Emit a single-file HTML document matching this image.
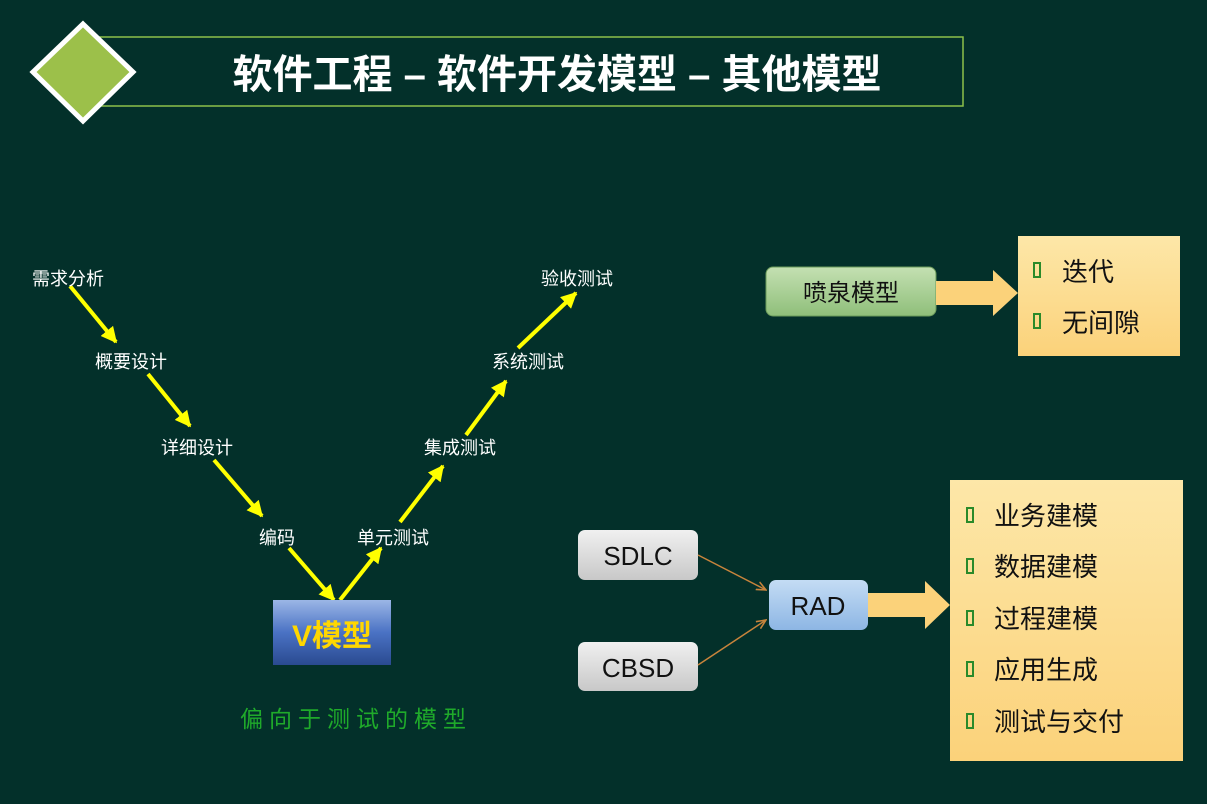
<!DOCTYPE html>
<html><head><meta charset="utf-8"><style>
html,body{margin:0;padding:0;background:#03302a;}
svg text{font-family:"Liberation Sans","Noto Sans CJK SC",sans-serif;}
</style></head><body>
<svg width="1207" height="799" viewBox="0 0 1207 799" xmlns="http://www.w3.org/2000/svg">
<defs>
<linearGradient id="vb" x1="0" y1="0" x2="0" y2="1"><stop offset="0" stop-color="#9bb6e6"/><stop offset="0.5" stop-color="#4a72c4"/><stop offset="1" stop-color="#2a4a90"/></linearGradient>
<linearGradient id="gb" x1="0" y1="0" x2="0" y2="1"><stop offset="0" stop-color="#c4e0b2"/><stop offset="1" stop-color="#8fbf7a"/></linearGradient>
<linearGradient id="gr" x1="0" y1="0" x2="0" y2="1"><stop offset="0" stop-color="#f0f0f0"/><stop offset="1" stop-color="#c8c8c8"/></linearGradient>
<linearGradient id="bl" x1="0" y1="0" x2="0" y2="1"><stop offset="0" stop-color="#c4dcf4"/><stop offset="1" stop-color="#8db6e4"/></linearGradient>
<linearGradient id="yl" x1="0" y1="0" x2="0" y2="1"><stop offset="0" stop-color="#fde7a8"/><stop offset="1" stop-color="#fbd27a"/></linearGradient>
<marker id="ah" viewBox="0 0 10 10" refX="9" refY="5" markerWidth="4" markerHeight="4" orient="auto"><path d="M0,0L10,5L0,10z" fill="#ffff00"/></marker>
<marker id="ob" viewBox="0 0 10 10" refX="9" refY="5" markerWidth="7" markerHeight="7" orient="auto"><path d="M0,1L9,5L0,9" fill="none" stroke="#c8843c" stroke-width="1.5"/></marker>
</defs>
<!-- title -->
<rect x="100" y="37" width="863" height="69" fill="none" stroke="#8cc04a" stroke-width="1.5"/>
<polygon points="83,24 133,72 83,121 33,72" fill="#9cc04a" stroke="#fff" stroke-width="5"/>
<text x="557" y="88" text-anchor="middle" fill="#fff" font-size="40" font-weight="bold">软件工程 – 软件开发模型 – 其他模型</text>
<!-- V arrows -->
<g stroke="#ffff00" stroke-width="4" marker-end="url(#ah)">
<line x1="70" y1="286" x2="116" y2="342"/>
<line x1="148" y1="374" x2="190" y2="426"/>
<line x1="214" y1="460" x2="262" y2="516"/>
<line x1="289" y1="548" x2="334" y2="600"/>
<line x1="340" y1="600" x2="381" y2="548"/>
<line x1="400" y1="522" x2="443" y2="466"/>
<line x1="466" y1="435" x2="506" y2="381"/>
<line x1="518" y1="348" x2="576" y2="293"/>
</g>
<g fill="#fff" font-size="18">
<text x="32" y="285">需求分析</text>
<text x="95" y="368">概要设计</text>
<text x="161" y="454">详细设计</text>
<text x="259" y="544">编码</text>
<text x="357" y="544">单元测试</text>
<text x="424" y="454">集成测试</text>
<text x="492" y="368">系统测试</text>
<text x="541" y="285">验收测试</text>
</g>
<rect x="273" y="600" width="118" height="65" fill="url(#vb)"/>
<text x="332" y="646" text-anchor="middle" fill="#ffd700" font-size="30" font-weight="bold">V模型</text>
<text x="240" y="727" fill="#1faa2a" font-size="23" letter-spacing="6">偏向于测试的模型</text>
<!-- fountain -->
<rect x="766" y="267" width="170" height="49" rx="7" fill="url(#gb)" stroke="#6a9a5a"/>
<text x="851" y="301" text-anchor="middle" fill="#111" font-size="24">喷泉模型</text>
<polygon points="936,281 993,281 993,270 1018,293 993,316 993,305 936,305" fill="#fbd27a"/>
<rect x="1018" y="236" width="162" height="120" fill="url(#yl)"/>
<g fill="none" stroke="#2a8a2a" stroke-width="2"><rect x="1034" y="263" width="6" height="14"/><rect x="1034" y="314" width="6" height="14"/></g>
<g fill="#111" font-size="26"><text x="1062" y="281">迭代</text><text x="1062" y="332">无间隙</text></g>
<!-- RAD -->
<rect x="578" y="530" width="120" height="50" rx="7" fill="url(#gr)"/>
<rect x="578" y="642" width="120" height="49" rx="7" fill="url(#gr)"/>
<text x="638" y="565" text-anchor="middle" fill="#111" font-size="26">SDLC</text>
<text x="638" y="677" text-anchor="middle" fill="#111" font-size="26">CBSD</text>
<line x1="698" y1="555" x2="766" y2="590" stroke="#c8843c" stroke-width="1.5" marker-end="url(#ob)"/>
<line x1="698" y1="665" x2="766" y2="620" stroke="#c8843c" stroke-width="1.5" marker-end="url(#ob)"/>
<rect x="769" y="580" width="99" height="50" rx="7" fill="url(#bl)"/>
<text x="818" y="615" text-anchor="middle" fill="#111" font-size="26">RAD</text>
<polygon points="868,593 925,593 925,581 950,605 925,629 925,617 868,617" fill="#fbd27a"/>
<rect x="950" y="480" width="233" height="281" fill="url(#yl)"/>
<g fill="none" stroke="#2a8a2a" stroke-width="2">
<rect x="967" y="508" width="6" height="14"/><rect x="967" y="559" width="6" height="14"/><rect x="967" y="611" width="6" height="14"/><rect x="967" y="662" width="6" height="14"/><rect x="967" y="714" width="6" height="14"/></g>
<g fill="#111" font-size="26">
<text x="994" y="525">业务建模</text><text x="994" y="576">数据建模</text><text x="994" y="628">过程建模</text><text x="994" y="679">应用生成</text><text x="994" y="731">测试与交付</text></g>
</svg>
</body></html>
